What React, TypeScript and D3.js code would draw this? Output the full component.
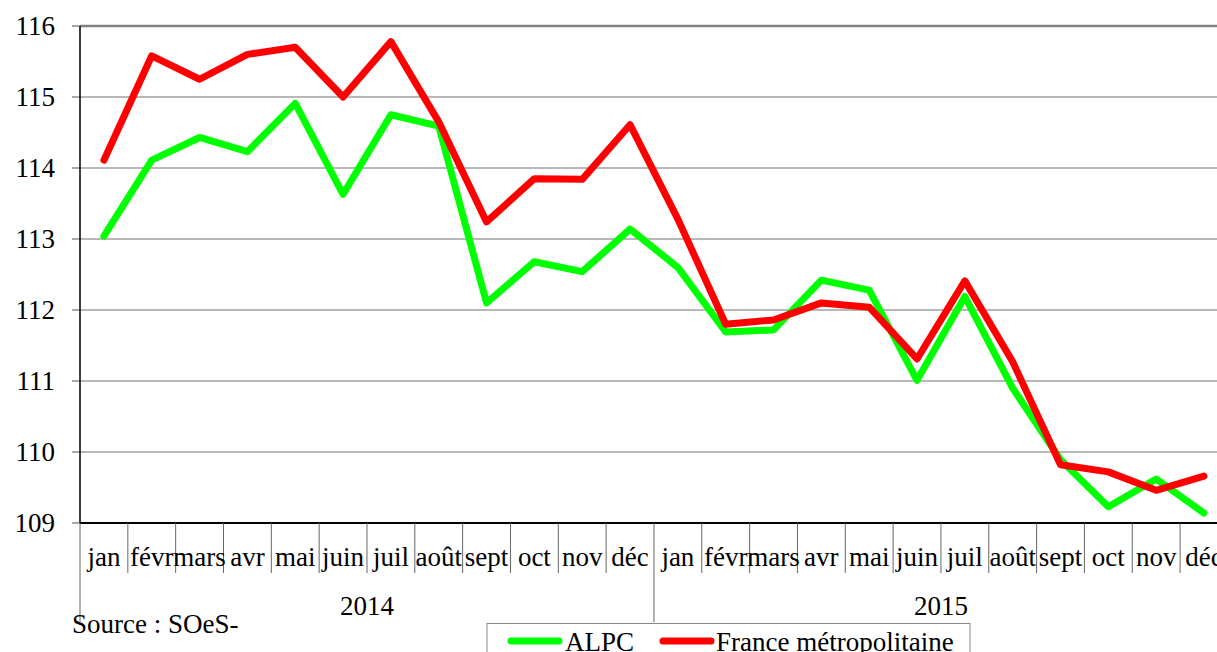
import React from 'react';
import * as d3 from 'd3';

// months of the two years shown
const months = ['jan', 'févr', 'mars', 'avr', 'mai', 'juin', 'juil', 'août', 'sept', 'oct', 'nov', 'déc'];
const years = ['2014', '2015'];
const yTicks = [109, 110, 111, 112, 113, 114, 115, 116];

const alpc = [
  113.04, 114.11, 114.43, 114.23, 114.91, 113.63, 114.75, 114.59, 112.10, 112.68, 112.54, 113.14,
  112.60, 111.69, 111.72, 112.42, 112.28, 111.01, 112.19, 110.90, 109.89, 109.23, 109.62, 109.14,
];
const france = [
  114.11, 115.58, 115.25, 115.60, 115.70, 115.00, 115.78, 114.65, 113.24, 113.85, 113.84, 114.61,
  113.28, 111.80, 111.86, 112.10, 112.04, 111.31, 112.41, 111.27, 109.82, 109.72, 109.46, 109.66,
];

const W = 1217;
const H = 652;
const left = 80;
const step = 47.83;
const top = 26;
const bottom = 523;
const txt = { fontFamily: "'Liberation Serif', 'Times New Roman', serif" };

const App = () => {
  const cats = years.flatMap(yr => months.map(m => `${m}-${yr}`));

  const x = d3.scaleBand<string>()
    .domain(cats)
    .range([left, left + step * cats.length]);

  const y = d3.scaleLinear()
    .domain([109, 116])
    .range([bottom, top]);

  const line = d3.line<number>()
    .x((d, i) => (x(cats[i]) as number) + x.bandwidth() / 2)
    .y(d => y(d));

  const plotRight = left + step * cats.length;

  return (
    <svg width={W} height={H} style={{ position: 'absolute', left: 0, top: 0, background: '#fff' }}>
      {/* gridlines */}
      {yTicks.map(t => (
        <line key={t} x1={left} x2={plotRight} y1={y(t)} y2={y(t)}
          stroke={t === 116 ? '#808080' : '#a0a0a0'} strokeWidth={t === 116 ? 2.5 : 1.5} />
      ))}
      {/* y ticks + labels */}
      {yTicks.map(t => (
        <g key={'l' + t}>
          <line x1={72} x2={left} y1={y(t)} y2={y(t)} stroke="#555" strokeWidth={1} />
          <text x={55} y={y(t)} dy="0.33em" textAnchor="end" fontSize={27} fill="#000" style={txt}>{t}</text>
        </g>
      ))}
      {/* axes */}
      <line x1={left} x2={left} y1={top} y2={bottom} stroke="#000" strokeWidth={1.5} />
      <line x1={left} x2={plotRight} y1={bottom} y2={bottom} stroke="#000" strokeWidth={2} />

      {/* category ticks */}
      {cats.map((c, i) => (
        i > 0 && i % 12 !== 0 ? (
          <line key={'t' + c} x1={x(c)} x2={x(c)} y1={bottom} y2={573} stroke="#666" strokeWidth={1} />
        ) : null
      ))}
      {/* year separators */}
      {[0, 12, 24].map(i => {
        const xx = left + step * i;
        return <line key={'s' + i} x1={xx} x2={xx} y1={bottom} y2={622} stroke="#666" strokeWidth={1} />;
      })}
      {/* month labels */}
      {cats.map((c, i) => (
        <text key={'m' + c} x={(x(c) as number) + x.bandwidth() / 2} y={566} textAnchor="middle"
          fontSize={27} fill="#000" style={txt}>{months[i % 12]}</text>
      ))}
      {/* year labels */}
      {years.map((yr, k) => (
        <text key={yr} x={left + step * (12 * k + 6)} y={615} textAnchor="middle" fontSize={27} fill="#000" style={txt}>{yr}</text>
      ))}

      {/* series */}
      <path d={line(alpc) || ''} fill="none" stroke="#00ff00" strokeWidth={7} strokeLinejoin="round" strokeLinecap="round" />
      <path d={line(france) || ''} fill="none" stroke="#ff0000" strokeWidth={7} strokeLinejoin="round" strokeLinecap="round" />

      {/* source */}
      <text x={72} y={633} fontSize={27} fill="#000" style={txt}>Source : SOeS-</text>

      {/* legend */}
      <rect x={487} y={623.5} width={483} height={40} fill="#fff" stroke="#888" strokeWidth={1} />
      <line x1={511} x2={559} y1={641} y2={641} stroke="#00ff00" strokeWidth={7} strokeLinecap="round" />
      <text x={565} y={651} fontSize={27} fill="#000" style={txt}>ALPC</text>
      <line x1={663} x2={711} y1={641} y2={641} stroke="#ff0000" strokeWidth={7} strokeLinecap="round" />
      <text x={716} y={651} fontSize={27} fill="#000" style={txt}>France métropolitaine</text>
    </svg>
  );
};

export default App;
